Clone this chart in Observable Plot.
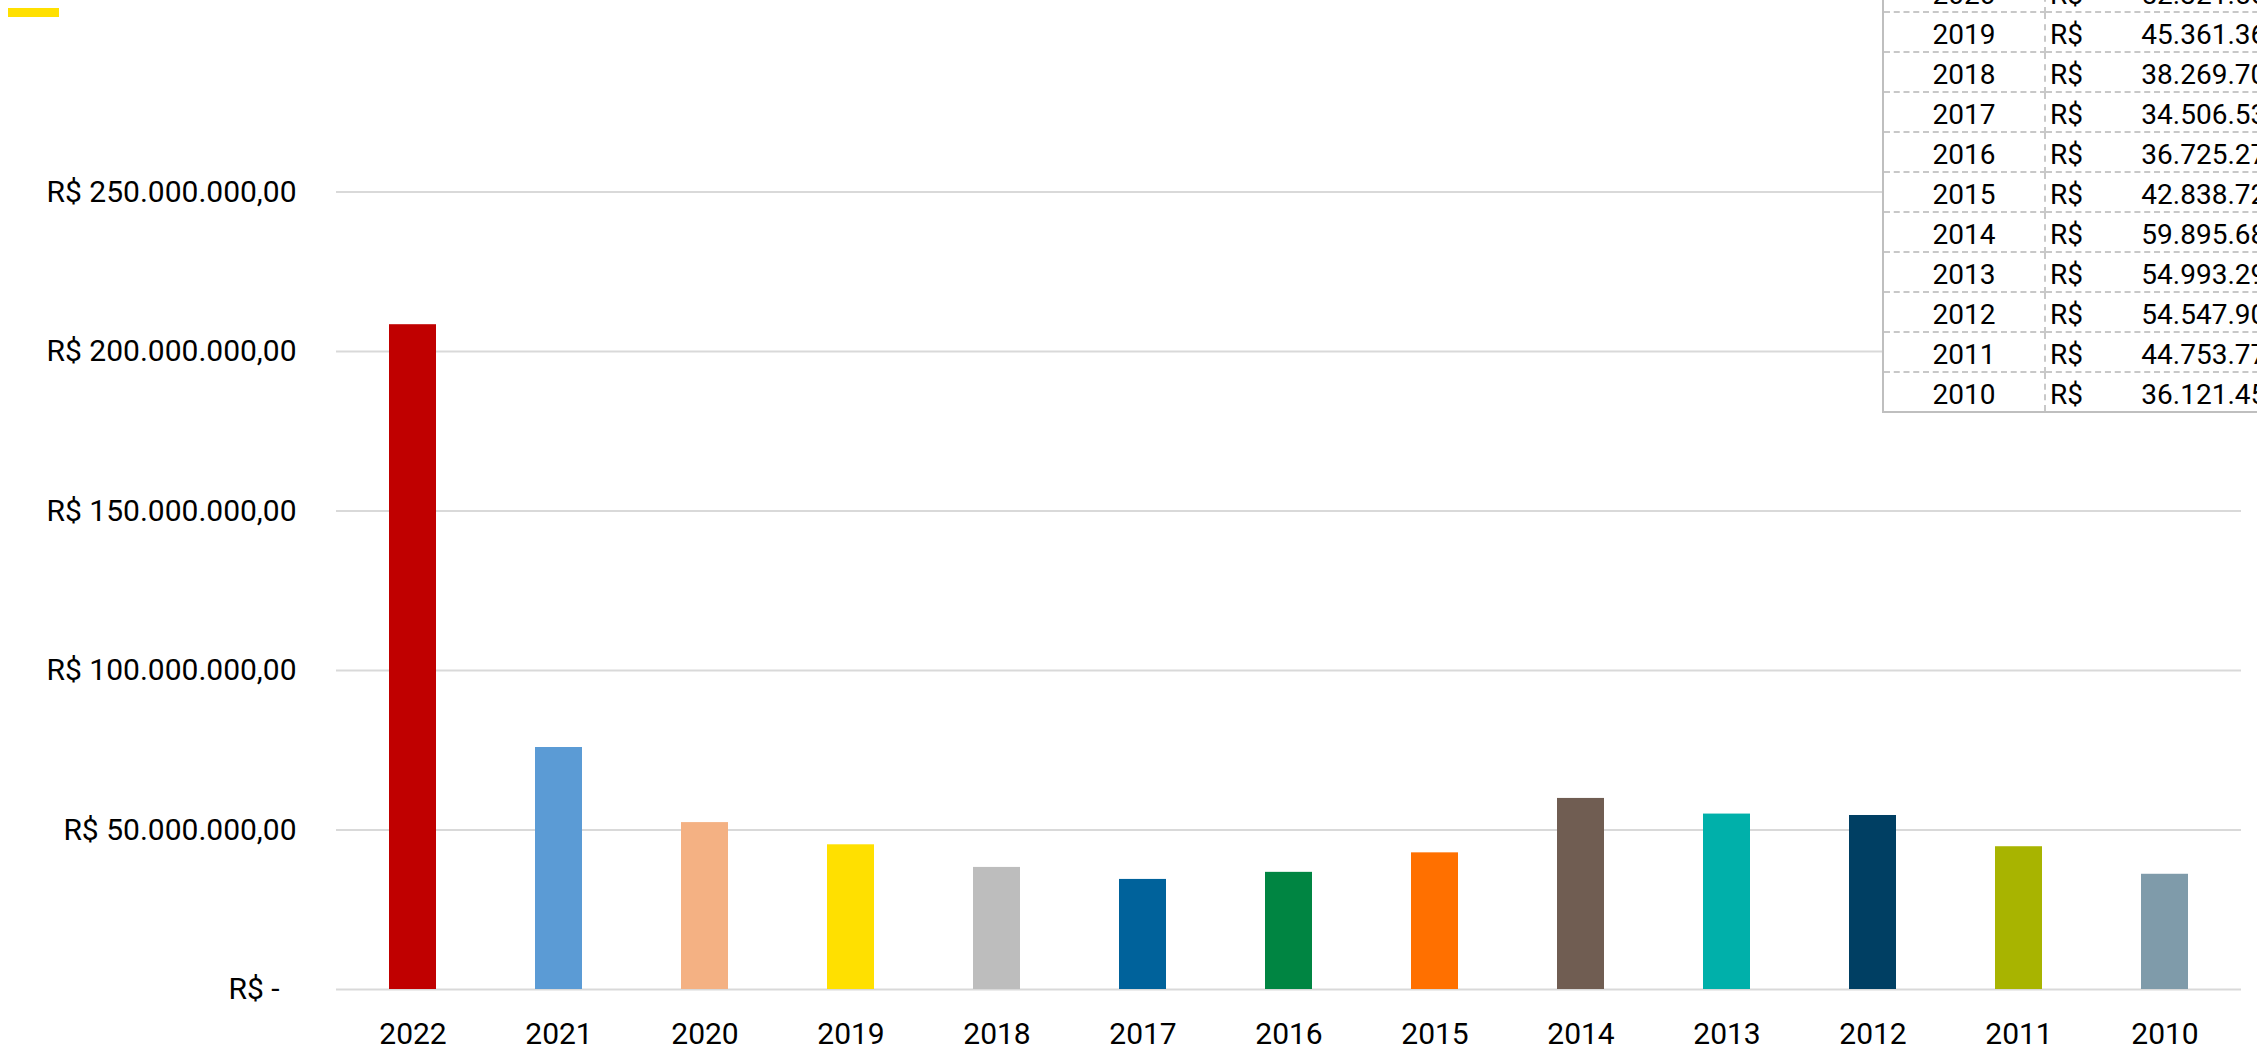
<!DOCTYPE html>
<html>
<head>
<meta charset="utf-8">
<script src="https://cdn.jsdelivr.net/npm/d3@7"></script>
<script src="https://cdn.jsdelivr.net/npm/@observablehq/plot@0.6"></script>
<style>
  html, body { margin: 0; padding: 0; background: #fff; overflow: hidden; }
  #wrap { position: relative; width: 2257px; height: 1052px; overflow: hidden; font-family: Roboto, "Noto Sans", sans-serif; }
  #chart { position: absolute; left: 0; top: 0; }
  #legendMark { position: absolute; left: 8px; top: 8px; width: 51px; height: 9px; background: #FFE000; }
  #tbl { position: absolute; left: 1882px; top: -27px; width: 444px; table-layout: fixed; border-collapse: collapse; background: #fff;
         font-family: Roboto, "Noto Sans", sans-serif; font-size: 28px; color: #000;
         border-left: 2px solid #BFBFBF; }
  #tbl td { height: 38px; padding: 0; box-sizing: border-box; border-bottom: 2px dashed #C8C8C8; line-height: 38px; white-space: nowrap; overflow: hidden; }
  #tbl td span { position: relative; top: 3px; }
  #tbl tr:last-child td { border-bottom: 2px solid #BFBFBF; }
  #tbl td.yr { width: 162px; text-align: center; border-right: 2px dashed #C8C8C8; }
  #tbl td.val { width: 282px; padding-left: 4px; padding-right: 8px; }
  #tbl td.val .cur { float: left; }
  #tbl td.val .num { float: right; }
</style>
</head>
<body>
<div id="wrap">
  <div id="chart"></div>
  <div id="legendMark"></div>
  <table id="tbl"></table>
</div>
<script>
// ---- Data ----
const years = ["2022","2021","2020","2019","2018","2017","2016","2015","2014","2013","2012","2011","2010"];
const values = [208400000, 75860000, 52321560, 45361360, 38269700, 34506530, 36725270, 42838720, 59895680, 54993290, 54547900, 44753770, 36121450];
const colors = ["#C00000","#5B9BD5","#F4B183","#FFE000","#BDBDBD","#00629B","#008542","#FF7000","#705D52","#00B0AA","#003F63","#A8B400","#7F9BAA"];
const yTicks = [0, 50000000, 100000000, 150000000, 200000000, 250000000];
const tableYears = ["2020","2019","2018","2017","2016","2015","2014","2013","2012","2011","2010"];

const data = years.map((y, i) => ({year: y, value: values[i], color: colors[i]}));

const ptBR = d3.formatLocale({decimal: ",", thousands: ".", grouping: [3], currency: ["R$ ", ""]});
const fmt = ptBR.format(",.2f");
const yFmt = d => d === 0 ? "R$ -\u2007" : "R$ " + fmt(d);

const chart = Plot.plot({
  width: 2257,
  height: 1052,
  marginLeft: 336,
  marginRight: 16,
  marginTop: 191.5,
  marginBottom: 63,
  style: {fontFamily: "Roboto, 'Noto Sans', sans-serif", fontSize: "30px", color: "#000", background: "#fff"},
  x: {domain: years, paddingInner: 0.68, paddingOuter: 0.34, label: null},
  y: {domain: [0, 250000000], label: null},
  marks: [
    Plot.ruleY(yTicks, {stroke: "#D9D9D9", strokeWidth: 2}),
    Plot.barY(data, {x: "year", y: "value", fill: "color"}),
    Plot.axisY({ticks: yTicks, tickFormat: yFmt, tickSize: 0, tickPadding: 40, label: null, fontSize: 30, fill: "#000"}),
    Plot.axisX({tickSize: 0, tickPadding: 33, label: null, fontSize: 30, fill: "#000"})
  ]
});
document.getElementById("chart").appendChild(chart);

// ---- Table (top-right, partly cropped as in the reference) ----
const tbl = document.getElementById("tbl");
tableYears.forEach(y => {
  const v = values[years.indexOf(y)];
  const tr = document.createElement("tr");
  const td1 = document.createElement("td");
  td1.className = "yr";
  const ys = document.createElement("span"); ys.textContent = y;
  td1.appendChild(ys);
  const td2 = document.createElement("td");
  td2.className = "val";
  const c = document.createElement("span"); c.className = "cur"; c.textContent = "R$";
  const n = document.createElement("span"); n.className = "num"; n.textContent = fmt(v);
  td2.appendChild(c); td2.appendChild(n);
  tr.appendChild(td1); tr.appendChild(td2);
  tbl.appendChild(tr);
});
</script>
</body>
</html>
